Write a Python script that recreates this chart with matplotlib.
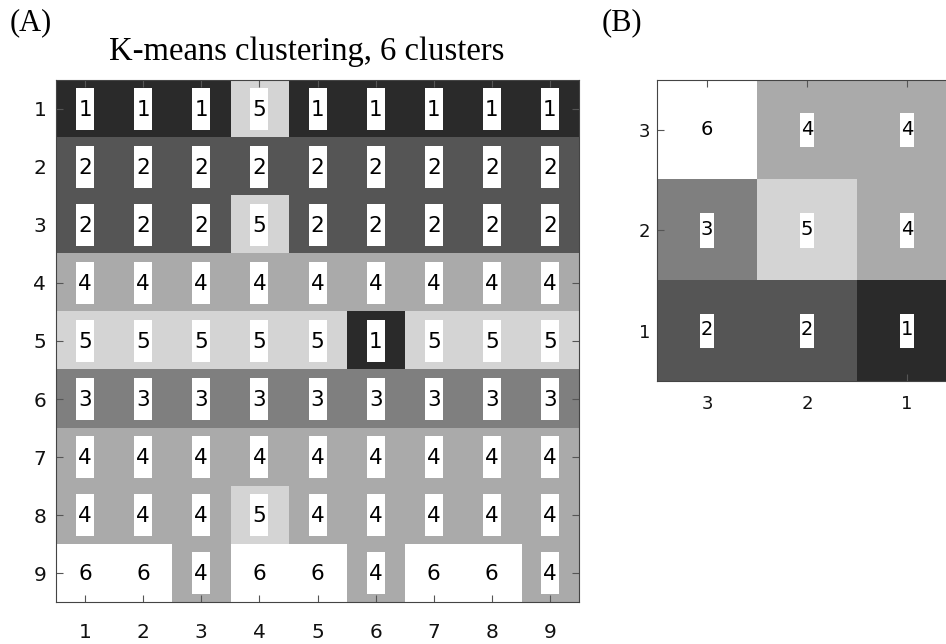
import matplotlib.pyplot as plt
import numpy as np
from matplotlib.colors import ListedColormap
from matplotlib.patches import Rectangle

# cluster id per cell, panel A: rows 1..9 (top to bottom), columns 1..9
clusters_a = [
    [1, 1, 1, 5, 1, 1, 1, 1, 1],
    [2, 2, 2, 2, 2, 2, 2, 2, 2],
    [2, 2, 2, 5, 2, 2, 2, 2, 2],
    [4, 4, 4, 4, 4, 4, 4, 4, 4],
    [5, 5, 5, 5, 5, 1, 5, 5, 5],
    [3, 3, 3, 3, 3, 3, 3, 3, 3],
    [4, 4, 4, 4, 4, 4, 4, 4, 4],
    [4, 4, 4, 5, 4, 4, 4, 4, 4],
    [6, 6, 4, 6, 6, 4, 6, 6, 4],
]
rows_a = [1, 2, 3, 4, 5, 6, 7, 8, 9]
cols_a = [1, 2, 3, 4, 5, 6, 7, 8, 9]

# panel B: rows y=3,2,1 (top to bottom), columns x=3,2,1 (left to right)
clusters_b = [
    [6, 4, 4],
    [3, 5, 4],
    [2, 2, 1],
]
rows_b = [3, 2, 1]
cols_b = [3, 2, 1]

n_clusters = 6
grays = [(k / 6, k / 6, k / 6) for k in range(1, n_clusters + 1)]
cmap = ListedColormap(grays)

fig = plt.figure(figsize=(9.46, 6.44), dpi=100)
ax_a = fig.add_axes([0.0592, 0.0652, 0.5529, 0.8106])
ax_b = fig.add_axes([0.6945, 0.4084, 0.3171, 0.4674])


def draw_panel(ax, grid, rows, cols, box_w, box_h, txt_size, tick_size, xpad, ypad):
    grid = np.array(grid)
    x0, x1 = cols[0], cols[-1]
    y0, y1 = rows[0], rows[-1]
    dx = 0.5 if x1 > x0 else -0.5
    dy = 0.5 if y1 > y0 else -0.5
    ax.imshow(grid, cmap=cmap, vmin=0.5, vmax=n_clusters + 0.5, aspect='auto',
              interpolation='nearest',
              extent=(x0 - dx, x1 + dx, y1 + dy, y0 - dy))
    ax.set_xlim(x0 - dx, x1 + dx)
    ax.set_ylim(y1 + dy, y0 - dy)
    for i, r in enumerate(rows):
        for j, c in enumerate(cols):
            ax.add_patch(Rectangle((c - box_w / 2, r - box_h / 2), box_w, box_h,
                                   facecolor='white', edgecolor='none', zorder=3))
            ax.text(c, r + 0.03 * box_h, str(grid[i, j]), ha='center', va='center',
                    fontsize=txt_size, color='black', zorder=4)
    ax.set_xticks(sorted(cols))
    ax.set_yticks(sorted(rows))
    ax.tick_params(which='both', direction='in', length=5, width=0.8, color='#555555',
                   top=True, right=True, labelsize=tick_size, labelcolor='#111111')
    ax.tick_params(axis='x', pad=xpad)
    ax.tick_params(axis='y', pad=ypad)
    for s in ax.spines.values():
        s.set_color('#444444')
        s.set_linewidth(0.8)


draw_panel(ax_a, clusters_a, rows_a, cols_a, 0.31, 0.72, 15.5, 14.5, 15, 7)
draw_panel(ax_b, clusters_b, rows_b, cols_b, 0.14, 0.34, 14, 13, 10, 5)

fig.text(307 / 946, 1 - 60 / 644, 'K-means clustering, 6 clusters', ha='center',
         va='baseline', fontsize=23.5, family='Liberation Serif')
fig.text(10 / 946, 1 - 30 / 644, '(A)', ha='left', va='baseline', fontsize=22,
         family='Liberation Serif')
fig.text(602 / 946, 1 - 30 / 644, '(B)', ha='left', va='baseline', fontsize=22,
         family='Liberation Serif')

fig.savefig('out.png', dpi=100)
